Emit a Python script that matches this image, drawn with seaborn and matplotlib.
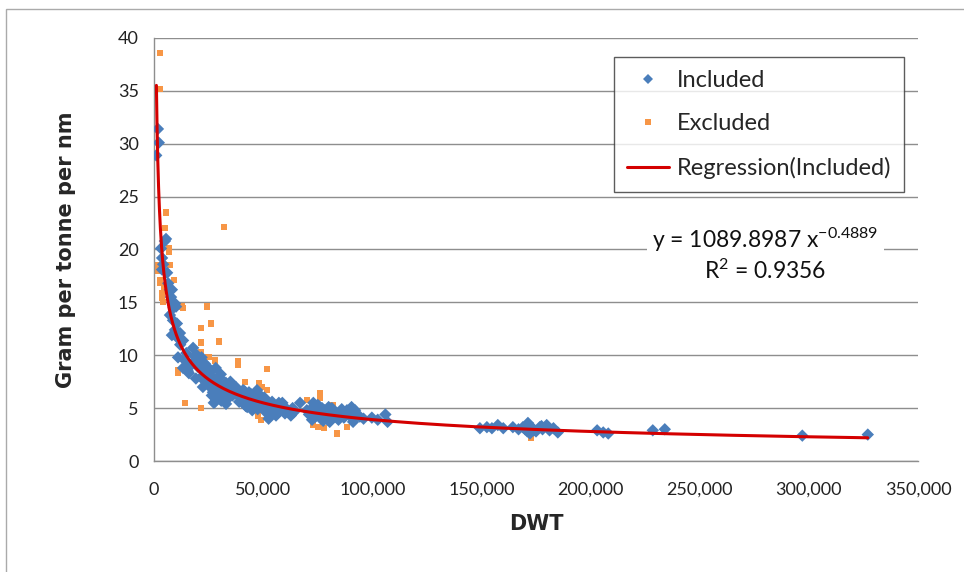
import matplotlib
matplotlib.use("Agg")
import matplotlib.pyplot as plt
import matplotlib.ticker as mticker
from matplotlib.lines import Line2D
from matplotlib.patches import Rectangle
import numpy as np
import pandas as pd
import seaborn as sns

# included ships (DWT, gram per tonne per nm)
inc_dwt = [1000, 1800, 2200, 3200, 3700, 3700, 4200, 5000, 5500, 6000, 6500, 7300,
           8200, 7800, 8700, 9600, 10100, 9000, 7300, 8700, 10500, 9600, 8200, 11900,
           11000, 13300, 12000, 11000, 14200, 13300, 15500, 17900, 19700, 17900, 21000,
           22400, 24700, 24200, 22400, 25600, 27000, 28800, 30200, 31600, 33400, 34800,
           38000, 39400, 40800, 44000, 47200, 48600, 42700, 45500, 20100, 16000, 19200,
           21500, 23300, 26500, 28300, 30600, 32900, 35300, 36600, 29300, 27400, 33000,
           21800, 23000, 24000, 25200, 26000, 27500, 29000, 30000, 31000, 32000, 34000,
           35000, 36000, 37500, 26500, 28000, 30800, 18500, 16800, 14800,
           43500, 45500, 48600, 51300, 54100, 57200, 60400, 45000, 51300, 55900, 62700,
           66900, 50000, 53000, 56000, 58500, 47000, 42000, 61000, 64000, 52500,
           41000, 43000, 44500, 46000, 47500, 49500, 50500, 52000, 53500, 55000, 57000,
           58800, 60000, 63500, 41500, 39000,
           70000, 72800, 76000, 79200, 81500, 85200, 88400, 92100, 72400, 79700, 91200,
           75000, 77000, 83000, 87000, 74000, 89500, 94300, 99800, 102500, 106000,
           107000, 96000, 80500, 78000,
           71000, 73500, 75500, 76500, 78500, 80000, 82000, 84000, 86000, 90000, 73000,
           77500, 84500, 90500,
           149300, 152500, 154800, 157500, 164400, 169000, 171300, 173500, 172200,
           176700, 179900, 181200, 185000, 170000, 175000, 178000, 183000,
           160000, 167000, 172000, 174000, 177500, 180500, 171000,
           203000, 205800, 208100, 228500, 234000, 297000, 327000]
inc_gram = [28.9, 31.4, 30.1, 20.1, 19.2, 18.1, 18.6, 20.8, 21.0, 17.8, 16.8, 16.2,
            16.2, 15.5, 14.9, 14.9, 14.6, 14.5, 13.8, 13.3, 13.0, 12.4, 11.9, 12.1,
            11.6, 11.4, 11.0, 9.8, 9.5, 8.8, 8.5, 10.7, 10.0, 9.3, 9.4,
            8.6, 8.4, 7.7, 7.0, 7.0, 6.5, 7.7, 7.2, 6.4, 5.8, 6.7,
            6.4, 6.0, 6.7, 6.0, 6.7, 6.2, 5.1, 5.0, 8.9, 8.3, 7.8,
            7.9, 9.2, 8.0, 8.8, 8.2, 7.4, 7.1, 6.9, 6.0, 5.5, 5.4,
            9.8, 8.2, 9.0, 7.5, 8.5, 7.2, 6.8, 7.9, 6.1, 6.9, 6.3,
            7.5, 6.2, 7.0, 6.2, 5.6, 5.7, 9.9, 9.0, 10.2,
            6.5, 6.0, 6.2, 5.8, 5.6, 5.5, 5.0, 4.8, 4.6, 4.3, 4.3,
            5.5, 5.3, 5.1, 4.9, 5.2, 5.5, 5.2, 4.7, 4.6, 4.0,
            5.8, 5.5, 6.3, 5.2, 4.9, 5.7, 6.0, 5.4, 4.7, 5.0, 4.6,
            5.5, 4.5, 5.0, 6.6, 5.6,
            4.8, 5.1, 4.6, 4.3, 5.0, 4.6, 4.8, 4.8, 3.9, 3.9, 3.7,
            5.3, 5.0, 4.2, 4.1, 4.2, 4.4, 4.2, 4.1, 3.9, 4.4,
            3.7, 4.0, 3.7, 4.8,
            4.4, 4.7, 5.2, 4.0, 4.5, 5.1, 4.7, 4.4, 4.9, 4.2, 5.5,
            3.8, 3.9, 5.1,
            3.1, 3.2, 3.1, 3.4, 3.2, 3.2, 3.6, 3.1, 2.6,
            3.2, 3.4, 2.9, 2.7, 3.0, 2.8, 3.0, 3.1,
            3.1, 3.0, 3.3, 2.9, 3.3, 3.1, 2.8,
            2.9, 2.7, 2.6, 2.9, 3.0, 2.4, 2.5]

# excluded ships
exc_dwt = [2700, 2700, 5500, 5000, 32000, 6900, 6900, 1800, 7300, 2700, 9200, 2700,
           3700, 3700, 4100, 12800, 24300, 13300, 26100, 21500, 21500, 29800, 21500,
           27900, 38500, 38500, 11000, 11000, 51700, 41700, 48100, 49400, 51700, 48100,
           48600, 14200, 21500, 47700, 49000, 76000, 76000, 70000, 72800, 75000, 78000,
           83800, 88400, 93000, 82000, 172700, 25000, 1200, 4500]
exc_gram = [38.6, 35.2, 23.5, 22.0, 22.1, 20.1, 19.8, 18.5, 18.5, 17.1, 17.1, 16.8,
            15.9, 15.4, 15.0, 14.6, 14.6, 14.5, 13.0, 12.6, 11.2, 11.3, 10.3,
            9.5, 9.4, 9.1, 8.6, 8.3, 8.7, 7.5, 7.4, 7.0, 6.7, 6.9,
            6.2, 5.5, 5.0, 4.3, 3.9, 6.4, 6.0, 5.8, 3.4, 3.2, 3.1,
            2.6, 3.2, 4.1, 5.3, 2.2, 9.8, 18.0, 16.5]

# regression shown on the chart: y = a * x^b
coef_a = 1089.8987
coef_b = -0.4889
r_squared = 0.9356
fit_range = (1100, 327000)

blue = "#4A7EBB"
orange = "#F79646"
red = "#D40000"
grid_col = "#8E8E8E"

sns.set_style("white")
plt.rcParams["font.family"] = ["Lato", "DejaVu Sans"]
plt.rcParams["mathtext.fontset"] = "custom"
plt.rcParams["mathtext.rm"] = "Lato"
plt.rcParams["mathtext.it"] = "Lato:italic"

inc = pd.DataFrame({"DWT": inc_dwt, "gram": inc_gram})
exc = pd.DataFrame({"DWT": exc_dwt, "gram": exc_gram})
fit_x = np.geomspace(fit_range[0], fit_range[1], 300)
fit = pd.DataFrame({"DWT": fit_x, "gram": coef_a * fit_x ** coef_b})

fig = plt.figure(figsize=(9.64, 5.72), dpi=100)
ax = fig.add_axes([154 / 964, 1 - 461 / 572, (918 - 154) / 964, (461 - 38) / 572])

sns.scatterplot(data=inc, x="DWT", y="gram", ax=ax, marker="D", s=40,
                color=blue, edgecolor="none", zorder=3)
sns.scatterplot(data=exc, x="DWT", y="gram", ax=ax, marker="s", s=20,
                color=orange, edgecolor="none", zorder=2)
sns.lineplot(data=fit, x="DWT", y="gram", ax=ax, color=red, lw=2.2, zorder=4)

ax.set_xlim(0, 350000)
ax.set_ylim(0, 40)
ax.set_xticks(np.arange(0, 350001, 50000))
ax.set_yticks(np.arange(0, 41, 5))
ax.xaxis.set_major_formatter(mticker.FuncFormatter(lambda v, p: f"{v:,.0f}"))
ax.yaxis.grid(True, color=grid_col, lw=1)
ax.xaxis.grid(False)
ax.set_axisbelow(True)
for s in ["top", "right"]:
    ax.spines[s].set_visible(False)
for s in ["left", "bottom"]:
    ax.spines[s].set_color(grid_col)
    ax.spines[s].set_linewidth(1)
ax.tick_params(axis="both", direction="out", length=5, width=1, color=grid_col,
               labelsize=13, labelcolor="#222222", pad=6)
ax.tick_params(axis="x", pad=10)

ax.set_xlabel("DWT", fontsize=15, fontweight="bold", family=["DejaVu Sans"], labelpad=12)
ax.set_ylabel("Gram per tonne per nm", fontsize=15, fontweight="bold",
              family=["DejaVu Sans"], labelpad=30)

handles = [
    Line2D([], [], marker="D", ls="none", color=blue, markersize=5, markeredgewidth=0),
    Line2D([], [], marker="s", ls="none", color=orange, markersize=4, markeredgewidth=0),
    Line2D([], [], color=red, lw=2.2),
]
leg = ax.legend(handles, ["Included", "Excluded", "Regression(Included)"],
                loc="upper left", bbox_to_anchor=((614 - 154) / 764, (461 - 57) / 423),
                fontsize=17, frameon=True, fancybox=False, handlelength=1.8,
                handletextpad=0.3, borderpad=0.55, labelspacing=0.95,
                borderaxespad=0)
leg.get_frame().set_edgecolor("#333333")
leg.get_frame().set_linewidth(1)

ax.text(0.80, 0.556, f"y = {coef_a} x$^{{\\mathrm{{{coef_b}}}}}$\nR$^2$ = {r_squared}",
        transform=ax.transAxes, ha="center", va="top", fontsize=16.5,
        linespacing=1.25, color="#111111",
        bbox=dict(facecolor="white", edgecolor="none", pad=4))

fig.patches.append(Rectangle((6 / 964, -0.02), 1.1, 1 - 9 / 572 + 0.02,
                             transform=fig.transFigure, fill=False,
                             edgecolor="#AAAAAA", lw=1))

fig.savefig("out.png", dpi=100)
